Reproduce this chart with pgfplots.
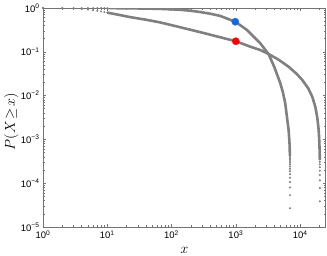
\documentclass[border=0pt]{standalone}
\usepackage{pgfplots}
\pgfplotsset{compat=1.18}
\usepackage{fontspec}
\newfontfamily\tickfont{Liberation Sans}
\definecolor{curve}{rgb}{0.5,0.5,0.5}
\definecolor{mblue}{rgb}{0.1,0.4,0.9}
\begin{document}
\begin{tikzpicture}
\begin{axis}[
 scale only axis, width=282.7bp, height=219bp,
 xmode=log, ymode=log, log basis x=10, log basis y=10,
 xmin=1, xmax=25000, ymin=1e-5, ymax=1,
 xtick={1,10,100,1000,10000},
 xticklabels={10\textsuperscript{0},10\textsuperscript{1},10\textsuperscript{2},10\textsuperscript{3},10\textsuperscript{4}},
 ytick={1e-5,1e-4,1e-3,1e-2,1e-1,1},
 yticklabels={10\textsuperscript{−5},10\textsuperscript{−4},10\textsuperscript{−3},10\textsuperscript{−2},10\textsuperscript{−1},10\textsuperscript{0}},
 minor xtick={2,3,4,5,6,7,8,9,20,30,40,50,60,70,80,90,200,300,400,500,600,700,800,900,2000,3000,4000,5000,6000,7000,8000,9000,20000},
 minor ytick={2e-5,3e-5,4e-5,5e-5,6e-5,7e-5,8e-5,9e-5,2e-4,3e-4,4e-4,5e-4,6e-4,7e-4,8e-4,9e-4,2e-3,3e-3,4e-3,5e-3,6e-3,7e-3,8e-3,9e-3,2e-2,3e-2,4e-2,5e-2,6e-2,7e-2,8e-2,9e-2,0.2,0.3,0.4,0.5,0.6,0.7,0.8,0.9},
 tick label style={font=\tickfont\fontsize{9.5}{10}\selectfont, black},
 axis line style={black!55, line width=0.8bp},
 every tick/.style={black!55, line width=0.6bp},
 major tick length=3bp, minor tick length=1.8bp,
 xlabel={$x$}, ylabel={$P(X\mskip2mu{\geq}\mskip2mu x)$},
 label style={font=\fontsize{14.5}{16}\selectfont},
 xlabel style={at={(axis description cs:0.5,-0.108)}, anchor=center},
 ylabel style={at={(axis description cs:-0.112,0.48)}, anchor=center},
]
% upper curve (line part)
\addplot[curve, line width=2.6bp, no marks] coordinates {
(10,0.993) (20,0.986) (40,0.972) (66,0.955) (100,0.932) (136,0.91) (200,0.865) (279,0.81) (400,0.74) (571,0.66) (800,0.545) (980,0.486) (1200,0.395) (1489,0.315) (1900,0.221) (2400,0.156) (3230,0.089) (3965,0.045) (4920,0.0191) (5400,0.0118) (5870,0.00667) (6300,0.0029) (6620,0.00164) (6870,0.00074) (6930,0.00042)
};
% lower curve (line part)
\addplot[curve, line width=2.6bp, no marks] coordinates {
(10,0.785) (15,0.70) (22.6,0.62) (40,0.54) (66,0.47) (130,0.37) (255,0.29) (500,0.226) (1000,0.174) (1676,0.131) (2400,0.11) (3230,0.089) (4575,0.0667) (6550,0.0462) (8720,0.032) (10820,0.0227) (13430,0.0145) (15500,0.0093) (17260,0.0055) (18540,0.00308) (19430,0.00164) (19900,0.00087) (20200,0.00044) (20250,0.00034)
};
% discrete points, upper
\addplot[curve, only marks, mark=*, mark size=0.8bp] coordinates {
(1,1) (2,0.999) (3,0.998) (4,0.998) (5,0.997) (6,0.996) (7,0.995) (8,0.995) (9,0.994) (10,0.993)
(6960,2.67e-5) (6960,5.34e-5) (6958,8.01e-5) (6957,1.068e-4) (6956,1.335e-4) (6955,1.602e-4) (6954,1.869e-4) (6953,2.136e-4) (6952,2.403e-4) (6951,2.67e-4) (6950,2.937e-4) (6949,3.204e-4) (6947,3.471e-4) (6945,3.738e-4) (6943,4.005e-4)
};
% discrete points, lower
\addplot[curve, only marks, mark=*, mark size=0.8bp] coordinates {
(1,1) (2,0.99) (3,0.97) (4,0.95) (5,0.92) (6,0.89) (7,0.86) (8,0.835) (9,0.81) (10,0.785)
(20260,3.86e-5) (20260,7.72e-5) (20258,1.158e-4) (20256,1.544e-4) (20254,1.93e-4) (20252,2.316e-4) (20250,2.702e-4) (20250,3.088e-4) (20250,3.474e-4)
};
\addplot[only marks, mark=*, mark size=3.6bp, mark options={fill=mblue, draw=mblue}] coordinates {(980,0.486)};
\addplot[only marks, mark=*, mark size=3.6bp, mark options={fill=red, draw=red}] coordinates {(1000,0.174)};
\end{axis}
\pgfresetboundingbox
\path ([shift={(-43bp,-29bp)}]current axis.south west) rectangle ([shift={(1.3bp,8bp)}]current axis.north east);
\end{tikzpicture}
\end{document}
